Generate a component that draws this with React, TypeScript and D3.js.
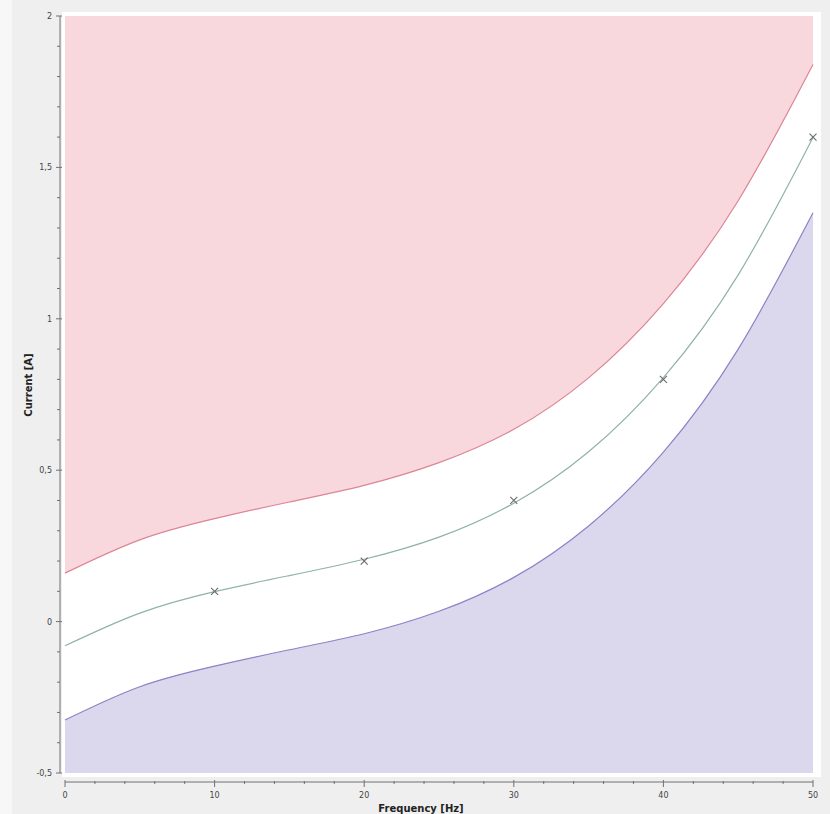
import React, { useEffect, useRef } from 'react';
import * as d3 from 'd3';

// Values, at every 5 Hz
const freqs = [0, 5, 10, 15, 20, 25, 30, 35, 40, 45, 50];
const fitLine = [-0.08, 0.028, 0.099, 0.152, 0.206, 0.279, 0.391, 0.561, 0.806, 1.145, 1.599];
const upperBound = [0.16, 0.27, 0.34, 0.395, 0.45, 0.525, 0.635, 0.805, 1.05, 1.39, 1.84];
const lowerBound = [-0.325, -0.215, -0.147, -0.093, -0.04, 0.034, 0.146, 0.316, 0.56, 0.9, 1.35];

// Measured points (crosses)
const pointFreqs = [10, 20, 30, 40, 50];
const pointCurrents = [0.1, 0.2, 0.4, 0.8, 1.6];

const yTickLabels = ['-0,5', '0', '0,5', '1', '1,5', '2'];
const xTickLabels = ['0', '10', '20', '30', '40', '50'];

const App = () => {
  const chartRef = useRef<SVGSVGElement>(null);

  useEffect(() => {
    const width = 830;
    const height = 814;
    const plot = { left: 65, right: 813, top: 16, bottom: 773 };

    const svg = d3.select(chartRef.current);
    svg.selectAll('*').remove();

    // page background
    svg.append('rect').attr('width', width).attr('height', height).attr('fill', '#efefef');
    svg.append('rect').attr('width', 12).attr('height', height).attr('fill', '#f7f7f7');
    svg.append('rect')
      .attr('x', 62).attr('y', 12)
      .attr('width', 821 - 62).attr('height', 777 - 12)
      .attr('fill', '#ffffff');

    const x = d3.scaleLinear().domain([0, 50]).range([plot.left, plot.right]);
    const y = d3.scaleLinear().domain([-0.5, 2]).range([plot.bottom, plot.top]);

    const upperArea = d3.area<number>()
      .x((_, i) => x(freqs[i]))
      .y0(plot.top)
      .y1(d => y(d))
      .curve(d3.curveNatural);

    const lowerArea = d3.area<number>()
      .x((_, i) => x(freqs[i]))
      .y0(plot.bottom)
      .y1(d => y(d))
      .curve(d3.curveNatural);

    const line = d3.line<number>()
      .x((_, i) => x(freqs[i]))
      .y(d => y(d))
      .curve(d3.curveNatural);

    svg.append('path').attr('d', upperArea(upperBound)).attr('fill', '#f8d8dc');
    svg.append('path').attr('d', lowerArea(lowerBound)).attr('fill', '#dbd7ed');

    svg.append('path').attr('d', line(upperBound))
      .attr('fill', 'none').attr('stroke', '#dc8596').attr('stroke-width', 1.2);
    svg.append('path').attr('d', line(lowerBound))
      .attr('fill', 'none').attr('stroke', '#8a84c6').attr('stroke-width', 1.2);
    svg.append('path').attr('d', line(fitLine))
      .attr('fill', 'none').attr('stroke', '#8fb3a6').attr('stroke-width', 1.2);

    // crosses
    const s = 3.5;
    const marks = svg.append('g').attr('stroke', '#6a6a6a').attr('stroke-width', 1.1);
    pointFreqs.forEach((f, i) => {
      const cx = x(f);
      const cy = y(pointCurrents[i]);
      marks.append('path').attr('d', `M${cx - s},${cy - s}L${cx + s},${cy + s}M${cx - s},${cy + s}L${cx + s},${cy - s}`);
    });

    // y axis
    const axisColor = '#707070';
    const yAxisX = 60;
    const yAxis = svg.append('g').attr('stroke', axisColor);
    yAxis.append('line').attr('x1', yAxisX).attr('x2', yAxisX).attr('y1', plot.top).attr('y2', plot.bottom);
    d3.range(0, 26).forEach(k => {
      const v = -0.5 + k * 0.1;
      const major = k % 5 === 0;
      yAxis.append('line')
        .attr('x1', major ? yAxisX - 4 : yAxisX - 3).attr('x2', major ? yAxisX + 2 : yAxisX)
        .attr('y1', y(v)).attr('y2', y(v));
    });
    svg.append('g').selectAll('text')
      .data(yTickLabels)
      .enter()
      .append('text')
      .attr('x', yAxisX - 8)
      .attr('y', (_, i) => y(-0.5 + i * 0.5) + 3)
      .attr('text-anchor', 'end')
      .attr('font-family', 'DejaVu Sans, sans-serif')
      .attr('font-size', 8)
      .attr('fill', '#444')
      .text(d => d);

    // x axis
    const xAxisY = 782;
    const xAxis = svg.append('g').attr('stroke', axisColor);
    xAxis.append('line').attr('x1', plot.left).attr('x2', plot.right).attr('y1', xAxisY).attr('y2', xAxisY);
    d3.range(0, 26).forEach(k => {
      const v = k * 2;
      const major = k % 5 === 0;
      xAxis.append('line')
        .attr('x1', x(v)).attr('x2', x(v))
        .attr('y1', major ? xAxisY - 2 : xAxisY - 1).attr('y2', major ? xAxisY + 5 : xAxisY + 2);
    });
    svg.append('g').selectAll('text')
      .data(xTickLabels)
      .enter()
      .append('text')
      .attr('x', (_, i) => x(i * 10))
      .attr('y', xAxisY + 16)
      .attr('text-anchor', 'middle')
      .attr('font-family', 'DejaVu Sans, sans-serif')
      .attr('font-size', 8)
      .attr('fill', '#444')
      .text(d => d);

    // titles
    svg.append('text')
      .attr('x', 421).attr('y', 812)
      .attr('text-anchor', 'middle')
      .attr('font-family', 'DejaVu Sans, sans-serif')
      .attr('font-weight', 'bold')
      .attr('font-size', 10)
      .attr('fill', '#222')
      .text('Frequency [Hz]');

    svg.append('text')
      .attr('transform', `translate(32,385) rotate(-90)`)
      .attr('text-anchor', 'middle')
      .attr('font-family', 'DejaVu Sans, sans-serif')
      .attr('font-weight', 'bold')
      .attr('font-size', 10)
      .attr('fill', '#222')
      .text('Current [A]');
  }, []);

  return (
    <svg
      ref={chartRef}
      width={830}
      height={814}
      style={{ position: 'absolute', left: 0, top: 0, display: 'block' }}
    />
  );
};

export default App;
